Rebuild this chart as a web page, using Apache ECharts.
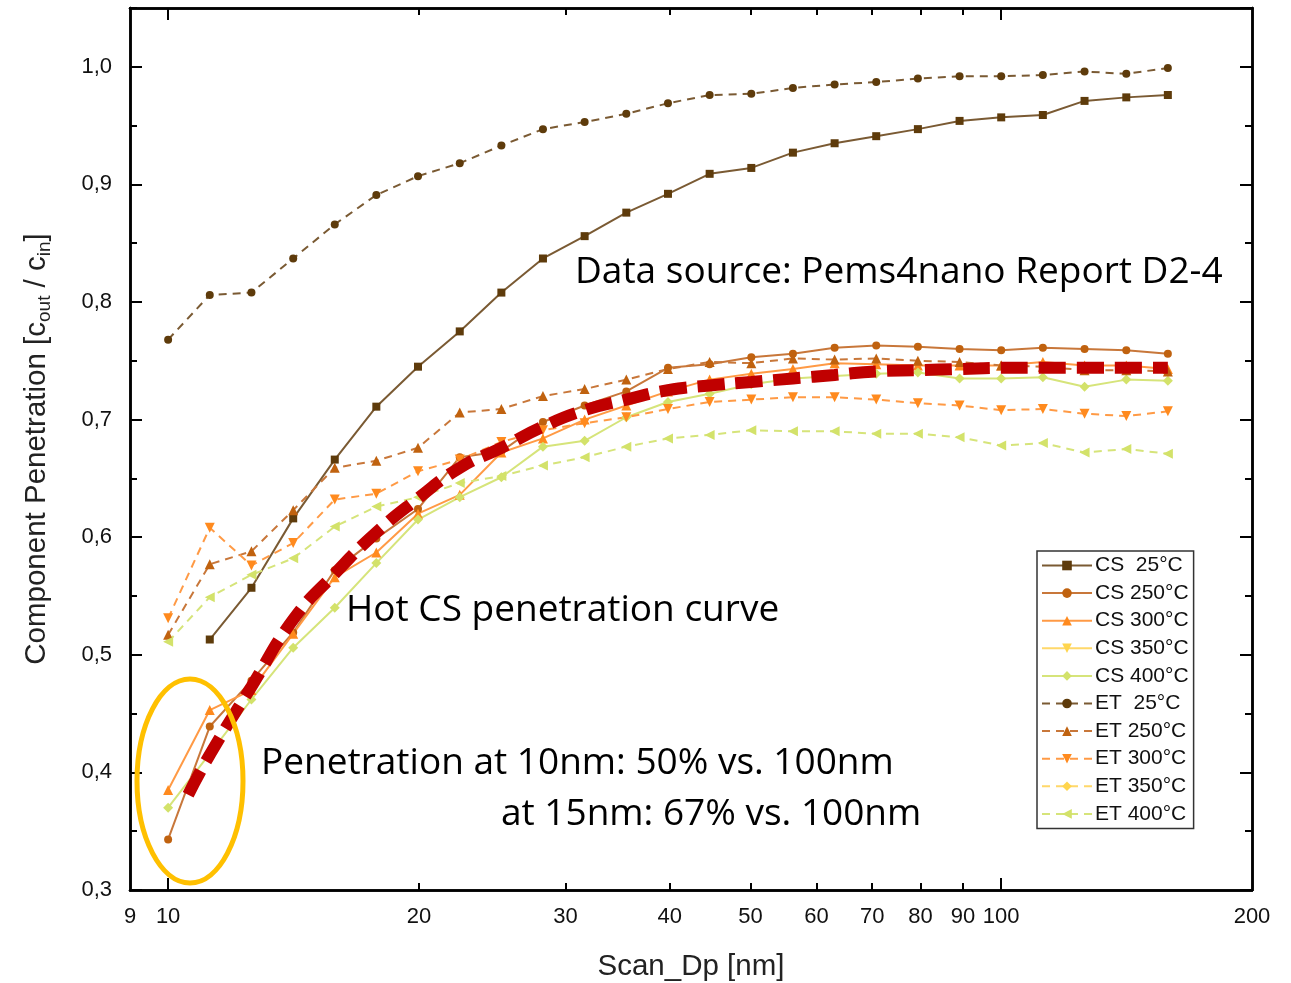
<!DOCTYPE html>
<html>
<head>
<meta charset="utf-8">
<script src="https://cdn.jsdelivr.net/npm/echarts@6/dist/echarts.min.js"></script>
<style>
  html, body { margin: 0; padding: 0; background: #fff; }
  #chart { width: 1291px; height: 983px; }
</style>
</head>
<body>
<div id="chart"></div>
<script>
(function () {
    'use strict';

    // particle diameters [nm]
    var dp = [10, 11.22, 12.59, 14.13, 15.85, 17.78, 19.95, 22.39, 25.12, 28.18, 31.62, 35.48, 39.81,
        44.67, 50.12, 56.23, 63.10, 70.79, 79.43, 89.13, 100, 112.2, 125.9, 141.3, 158.5];

    var cs25 = [null, 0.513, 0.557, 0.616, 0.666, 0.711, 0.745, 0.775, 0.808, 0.837, 0.856, 0.876, 0.892,
        0.909, 0.914, 0.927, 0.935, 0.941, 0.947, 0.954, 0.957, 0.959, 0.971, 0.974, 0.976];
    var cs250 = [0.343, 0.439, 0.478, 0.519, 0.572, 0.599, 0.624, 0.668, 0.673, 0.698, 0.712, 0.724, 0.744,
        0.747, 0.753, 0.756, 0.761, 0.763, 0.762, 0.760, 0.759, 0.761, 0.760, 0.759, 0.756];
    var cs300 = [0.385, 0.453, 0.470, 0.518, 0.566, 0.587, 0.620, 0.636, 0.672, 0.684, 0.700, 0.712, 0.724,
        0.734, 0.739, 0.743, 0.748, 0.747, 0.746, 0.746, 0.746, 0.749, 0.746, 0.746, 0.743];
    var cs350 = [];
    var cs400 = [0.370, 0.416, 0.462, 0.506, 0.540, 0.578, 0.615, 0.634, 0.651, 0.677, 0.682, 0.702, 0.715,
        0.722, 0.730, 0.735, 0.737, 0.739, 0.740, 0.735, 0.735, 0.736, 0.728, 0.734, 0.733];
    var et25 = [0.768, 0.806, 0.808, 0.837, 0.866, 0.891, 0.907, 0.918, 0.933, 0.947, 0.953, 0.960, 0.969,
        0.976, 0.977, 0.982, 0.985, 0.987, 0.990, 0.992, 0.992, 0.993, 0.996, 0.994, 0.999];
    var et250 = [0.517, 0.577, 0.588, 0.623, 0.659, 0.665, 0.676, 0.706, 0.709, 0.720, 0.726, 0.734, 0.743,
        0.749, 0.748, 0.752, 0.751, 0.752, 0.750, 0.749, 0.746, 0.745, 0.742, 0.742, 0.741];
    var et300 = [0.531, 0.608, 0.576, 0.595, 0.632, 0.637, 0.656, 0.666, 0.681, 0.691, 0.697, 0.702, 0.709,
        0.715, 0.717, 0.719, 0.719, 0.717, 0.714, 0.712, 0.708, 0.709, 0.705, 0.703, 0.707];
    var et350 = [];
    var et400 = [0.511, 0.549, 0.568, 0.582, 0.609, 0.626, 0.634, 0.646, 0.652, 0.661, 0.668, 0.677, 0.684,
        0.687, 0.691, 0.690, 0.690, 0.688, 0.688, 0.685, 0.678, 0.680, 0.672, 0.675, 0.671];

    // hand drawn "hot CS" curve
    var fitDp = [10.57, 11.22, 12.59, 14.13, 15.85, 17.78, 19.95, 22.39, 25.12, 28.18, 31.62, 35.48, 39.81,
        44.67, 50.12, 56.23, 63.10, 70.79, 79.43, 89.13, 100, 112.2, 125.9, 141.3, 158.5];
    var fitVal = [0.381, 0.415, 0.473, 0.530, 0.569, 0.604, 0.633, 0.659, 0.676, 0.694, 0.708, 0.717, 0.725,
        0.729, 0.732, 0.735, 0.738, 0.741, 0.742, 0.743, 0.744, 0.744, 0.744, 0.744, 0.744];

    var xLabels = [9, 10, 20, 30, 40, 50, 60, 70, 80, 90, 100, 200];
    var xMajor = [10, 100];
    var xMinor = [20, 30, 40, 50, 60, 70, 80, 90];

    var FONT = '"Liberation Sans", Arial, sans-serif';
    var NOTE = '"Open Sans", Lato, sans-serif';

    function pairs(xs, ys) {
        var out = [];
        for (var i = 0; i < ys.length; i++) {
            if (ys[i] != null) out.push([xs[i], ys[i]]);
        }
        return out;
    }

    function mk(name, values, color, lineColor, symbol, rotate, size, dashed) {
        return {
            name: name,
            type: 'line',
            data: pairs(dp, values),
            symbol: symbol,
            symbolRotate: rotate,
            symbolSize: size,
            itemStyle: {color: color},
            lineStyle: {color: lineColor, width: 2, type: dashed ? [8, 6] : 'solid'},
            z: 3
        };
    }

    function xAxisDef(pos, ticks, len, labels) {
        return {
            type: 'log', logBase: 10, min: 9, max: 200, position: pos,
            axisLine: {show: true, onZero: false, lineStyle: {color: '#000', width: 2.5}},
            axisTick: {show: true, inside: true, length: len, customValues: ticks, lineStyle: {color: '#000', width: 2}},
            axisLabel: labels ? {
                show: true, customValues: xLabels, margin: 16, color: '#111',
                fontFamily: FONT, fontSize: 22, showMinLabel: true, showMaxLabel: true, hideOverlap: false,
                formatter: function (v) { return String(Math.round(v)); }
            } : {show: false},
            splitLine: {show: false},
            minorTick: {show: false}
        };
    }

    function yAxisDef(pos, interval, len, labels) {
        return {
            type: 'value', min: 0.3, max: 1.05, interval: interval, position: pos,
            axisLine: {show: true, onZero: false, lineStyle: {color: '#000', width: 2.5}},
            axisTick: {show: true, inside: true, length: len, lineStyle: {color: '#000', width: 2}},
            axisLabel: labels ? {
                show: true, margin: 18, color: '#111', fontFamily: FONT, fontSize: 22,
                showMaxLabel: false,
                formatter: function (v) {
                    if (Math.abs(v * 10 - Math.round(v * 10)) > 1e-6) return '';
                    return v.toFixed(1).replace('.', ',');
                }
            } : {show: false},
            splitLine: {show: false}
        };
    }

    function note(text, x, y) {
        return {
            type: 'text', x: x, y: y, z: 100,
            style: {text: text, font: '37px ' + NOTE, fill: '#000', align: 'left', verticalAlign: 'middle'}
        };
    }

    var chart = echarts.init(document.getElementById('chart'), null, {renderer: 'canvas'});

    var series = [
        mk('CS  25°C', cs25, '#5e3b0b', '#7a5a33', 'rect', 0, 8, false),
        mk('CS 250°C', cs250, '#c0620f', '#c8773a', 'circle', 0, 8, false),
        mk('CS 300°C', cs300, '#ff8a1e', '#ff9a45', 'triangle', 0, 10, false),
        mk('CS 350°C', cs350, '#ffd54d', '#ffd86a', 'triangle', 180, 10, false),
        mk('CS 400°C', cs400, '#d3e26a', '#d6e47a', 'diamond', 0, 10, false),
        mk('ET  25°C', et25, '#5e3b0b', '#7a5a33', 'circle', 0, 8, true),
        mk('ET 250°C', et250, '#c0620f', '#c8773a', 'triangle', 0, 10, true),
        mk('ET 300°C', et300, '#ff8a1e', '#ff9a45', 'triangle', 180, 10, true),
        mk('ET 350°C', et350, '#ffd54d', '#ffd86a', 'diamond', 0, 10, true),
        mk('ET 400°C', et400, '#d3e26a', '#d6e47a', 'triangle', 90, 10, true),
        {
            name: 'Hot CS',
            type: 'line',
            data: pairs(fitDp, fitVal),
            smooth: true,
            showSymbol: false,
            symbol: 'none',
            lineStyle: {color: '#c00000', width: 12, type: [27, 11], cap: 'butt'},
            z: 5
        }
    ];

    var option = {
        animation: false,
        backgroundColor: '#fff',
        grid: {left: 130, right: 39, top: 8, bottom: 93, containLabel: false, outerBoundsMode: 'none'},
        legend: {
            orient: 'vertical',
            left: 1037, top: 551,
            padding: [4, 5, 4, 4],
            itemGap: 6.6,
            itemWidth: 50,
            itemHeight: 12,
            backgroundColor: '#fff',
            borderColor: '#333',
            borderWidth: 1.5,
            borderRadius: 0,
            selectedMode: false,
            textStyle: {fontFamily: FONT, fontSize: 21, color: '#111', lineHeight: 21, padding: [0, 0, 0, -2]},
            data: ['CS  25°C', 'CS 250°C', 'CS 300°C', 'CS 350°C', 'CS 400°C',
                'ET  25°C', 'ET 250°C', 'ET 300°C', 'ET 350°C', 'ET 400°C']
        },
        xAxis: [
            Object.assign(xAxisDef('bottom', xMajor, 12, true), {
                name: 'Scan_Dp [nm]', nameLocation: 'middle', nameGap: 62,
                nameTextStyle: {fontFamily: FONT, fontSize: 29.5, color: '#222'}
            }),
            xAxisDef('bottom', xMinor, 7, false),
            xAxisDef('top', xMajor, 12, false),
            xAxisDef('top', xMinor, 7, false)
        ],
        yAxis: [
            Object.assign(yAxisDef('left', 0.1, 12, true), {
                name: 'Component Penetration [c{s|out} / c{s|in}]',
                nameLocation: 'middle', nameGap: 76,
                nameTextStyle: {
                    fontFamily: FONT, fontSize: 29.5, color: '#222',
                    rich: {s: {fontFamily: FONT, fontSize: 19, color: '#222', padding: [15, 0, 0, 0]}}
                }
            }),
            yAxisDef('left', 0.05, 7, false),
            yAxisDef('right', 0.1, 12, false),
            yAxisDef('right', 0.05, 7, false)
        ],
        series: series,
        graphic: [
            note('Data source: Pems4nano Report D2-4', 575, 272),
            note('Hot CS penetration curve', 346, 610),
            note('Penetration at 10nm: 50% vs. 100nm', 261, 763),
            note('at 15nm: 67% vs. 100nm', 501, 814),
            {type: 'ellipse', z: 90,
                shape: {cx: 190, cy: 781, rx: 53, ry: 102},
                style: {fill: 'none', stroke: '#ffc000', lineWidth: 5}}
        ]
    };

    chart.setOption(option);
}());
</script>
</body>
</html>
